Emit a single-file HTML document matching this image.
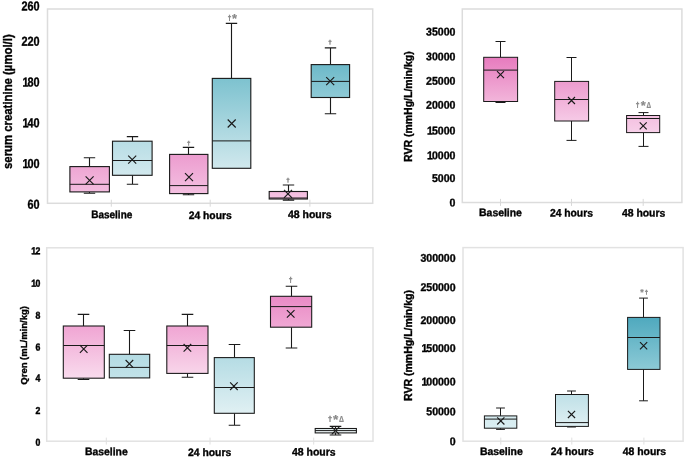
<!DOCTYPE html>
<html lang="en"><head><meta charset="utf-8"><title>Box plots</title>
<style>html,body{margin:0;padding:0;background:#fff}svg{display:block}text{font-family:"Liberation Sans",sans-serif;font-weight:bold;fill:#000000;stroke:#000;stroke-width:0.36px}.ann{font-weight:bold;fill:#8a8a8a;stroke:none}</style></head><body>
<svg width="685" height="459" viewBox="0 0 685 459">
<rect width="685" height="459" fill="#fff"/>
<defs>
</defs>
<rect x="47.5" y="9" width="325.2" height="194.3" fill="none" stroke="#dcdcdc" stroke-width="1.5"/>
<line x1="111.3" y1="199.7" x2="111.3" y2="206.7" stroke="#d8d8d8" stroke-width="1"/>
<line x1="210.2" y1="199.7" x2="210.2" y2="206.7" stroke="#d8d8d8" stroke-width="1"/>
<line x1="309.9" y1="199.7" x2="309.9" y2="206.7" stroke="#d8d8d8" stroke-width="1"/>
<rect x="462.3" y="9" width="219.6" height="193.5" fill="none" stroke="#dcdcdc" stroke-width="1.5"/>
<line x1="500.5" y1="198.9" x2="500.5" y2="205.9" stroke="#d8d8d8" stroke-width="1"/>
<line x1="571.5" y1="198.9" x2="571.5" y2="205.9" stroke="#d8d8d8" stroke-width="1"/>
<line x1="643.2" y1="198.9" x2="643.2" y2="205.9" stroke="#d8d8d8" stroke-width="1"/>
<rect x="46.7" y="247.8" width="326.3" height="193.4" fill="none" stroke="#e2e2e2" stroke-width="1.5"/>
<line x1="106.3" y1="437.6" x2="106.3" y2="444.6" stroke="#e0e0e0" stroke-width="1"/>
<line x1="210" y1="437.6" x2="210" y2="444.6" stroke="#e0e0e0" stroke-width="1"/>
<line x1="313.7" y1="437.6" x2="313.7" y2="444.6" stroke="#e0e0e0" stroke-width="1"/>
<rect x="463" y="247.6" width="220.1" height="193.6" fill="none" stroke="#e2e2e2" stroke-width="1.5"/>
<line x1="500.8" y1="437.6" x2="500.8" y2="444.6" stroke="#e0e0e0" stroke-width="1"/>
<line x1="571.8" y1="437.6" x2="571.8" y2="444.6" stroke="#e0e0e0" stroke-width="1"/>
<line x1="643.9" y1="437.6" x2="643.9" y2="444.6" stroke="#e0e0e0" stroke-width="1"/>
<path d="M89.5 166.6V157.7M83.8 157.7H95.2M89.5 191.9V193.3M83.8 193.3H95.2" stroke="#1a1a1a" stroke-width="1.12" fill="none"/>
<linearGradient id="g1" x1="0" y1="0" x2="0" y2="1"><stop offset="0" stop-color="#eea6d3"/><stop offset="1" stop-color="#f3bcdf"/></linearGradient>
<rect x="69.9" y="166.6" width="39.5" height="25.3" fill="url(#g1)" stroke="#1a1a1a" stroke-width="1.12"/>
<line x1="69.9" y1="184.3" x2="109.4" y2="184.3" stroke="#1a1a1a" stroke-width="1"/>
<path d="M85.6 176.3L93.6 184.3M85.6 184.3L93.6 176.3" stroke="#1a1a1a" stroke-width="1.15" fill="none"/>
<path d="M132.5 141.2V136.6M126.8 136.6H138.2M132.5 175.3V184.3M126.8 184.3H138.2" stroke="#1a1a1a" stroke-width="1.12" fill="none"/>
<linearGradient id="g2" x1="0" y1="0" x2="0" y2="1"><stop offset="0" stop-color="#b8dde5"/><stop offset="1" stop-color="#d2e9ee"/></linearGradient>
<rect x="112.5" y="141.2" width="39.6" height="34.1" fill="url(#g2)" stroke="#1a1a1a" stroke-width="1.12"/>
<line x1="112.5" y1="160.5" x2="152.1" y2="160.5" stroke="#1a1a1a" stroke-width="1"/>
<path d="M128.2 155.7L136.2 163.7M128.2 163.7L136.2 155.7" stroke="#1a1a1a" stroke-width="1.15" fill="none"/>
<path d="M188.5 154.4V147.4M182.8 147.4H194.2M188.5 193.6V194.8M182.8 194.8H194.2" stroke="#1a1a1a" stroke-width="1.12" fill="none"/>
<linearGradient id="g3" x1="0" y1="0" x2="0" y2="1"><stop offset="0" stop-color="#ec9ccf"/><stop offset="1" stop-color="#f4c0e1"/></linearGradient>
<rect x="169.6" y="154.4" width="38.3" height="39.2" fill="url(#g3)" stroke="#1a1a1a" stroke-width="1.12"/>
<line x1="169.6" y1="185.6" x2="207.9" y2="185.6" stroke="#1a1a1a" stroke-width="1"/>
<path d="M185 173.2L193 181.2M185 181.2L193 173.2" stroke="#1a1a1a" stroke-width="1.15" fill="none"/>
<path d="M231.5 78.4V23.4M225.8 23.4H237.2" stroke="#1a1a1a" stroke-width="1.12" fill="none"/>
<linearGradient id="g4" x1="0" y1="0" x2="0" y2="1"><stop offset="0" stop-color="#7dc2cf"/><stop offset="1" stop-color="#d0e8ed"/></linearGradient>
<rect x="212.3" y="78.4" width="38.5" height="89.9" fill="url(#g4)" stroke="#1a1a1a" stroke-width="1.12"/>
<line x1="212.3" y1="140.9" x2="250.8" y2="140.9" stroke="#1a1a1a" stroke-width="1"/>
<path d="M227.7 119.5L235.7 127.5M227.7 127.5L235.7 119.5" stroke="#1a1a1a" stroke-width="1.15" fill="none"/>
<path d="M288.5 191.5V185M282.8 185H294.2M288.5 199V200.1M282.8 200.1H294.2" stroke="#1a1a1a" stroke-width="1.12" fill="none"/>
<linearGradient id="g5" x1="0" y1="0" x2="0" y2="1"><stop offset="0" stop-color="#f3bcdf"/><stop offset="1" stop-color="#f5c4e3"/></linearGradient>
<rect x="269.2" y="191.5" width="38.2" height="7.5" fill="url(#g5)" stroke="#1a1a1a" stroke-width="1.12"/>
<line x1="269.2" y1="198" x2="307.4" y2="198" stroke="#1a1a1a" stroke-width="1"/>
<path d="M284 189.9L292 197.9M284 197.9L292 189.9" stroke="#1a1a1a" stroke-width="1.15" fill="none"/>
<path d="M330.5 64.6V47.9M324.8 47.9H336.2M330.5 97.5V113.8M324.8 113.8H336.2" stroke="#1a1a1a" stroke-width="1.12" fill="none"/>
<linearGradient id="g6" x1="0" y1="0" x2="0" y2="1"><stop offset="0" stop-color="#6db9c9"/><stop offset="1" stop-color="#8fcad6"/></linearGradient>
<rect x="311.2" y="64.6" width="38.4" height="32.9" fill="url(#g6)" stroke="#1a1a1a" stroke-width="1.12"/>
<line x1="311.2" y1="81.4" x2="349.6" y2="81.4" stroke="#1a1a1a" stroke-width="1"/>
<path d="M326.2 77.1L334.2 85.1M326.2 85.1L334.2 77.1" stroke="#1a1a1a" stroke-width="1.15" fill="none"/>
<path d="M500.5 57.3V41.5M495.5 41.5H505.5M500.5 101.5V102.5M495.5 102.5H505.5" stroke="#1a1a1a" stroke-width="1" fill="none"/>
<linearGradient id="g7" x1="0" y1="0" x2="0" y2="1"><stop offset="0" stop-color="#e77bbe"/><stop offset="1" stop-color="#f2b5da"/></linearGradient>
<rect x="483.7" y="57.3" width="33.9" height="44.2" fill="url(#g7)" stroke="#1a1a1a" stroke-width="1"/>
<line x1="483.7" y1="70.1" x2="517.6" y2="70.1" stroke="#1a1a1a" stroke-width="1"/>
<path d="M497 71.1L504 78.1M497 78.1L504 71.1" stroke="#1a1a1a" stroke-width="1.15" fill="none"/>
<path d="M571.5 81.4V57.5M566.5 57.5H576.5M571.5 121V140.4M566.5 140.4H576.5" stroke="#1a1a1a" stroke-width="1" fill="none"/>
<linearGradient id="g8" x1="0" y1="0" x2="0" y2="1"><stop offset="0" stop-color="#ec9bce"/><stop offset="1" stop-color="#f6cae6"/></linearGradient>
<rect x="554.7" y="81.4" width="33.9" height="39.6" fill="url(#g8)" stroke="#1a1a1a" stroke-width="1"/>
<line x1="554.7" y1="99.5" x2="588.6" y2="99.5" stroke="#1a1a1a" stroke-width="1"/>
<path d="M568 97L575 104M568 104L575 97" stroke="#1a1a1a" stroke-width="1.15" fill="none"/>
<path d="M643.5 115.5V112.6M638.5 112.6H648.5M643.5 132.6V146.4M638.5 146.4H648.5" stroke="#1a1a1a" stroke-width="1" fill="none"/>
<linearGradient id="g9" x1="0" y1="0" x2="0" y2="1"><stop offset="0" stop-color="#f3bfe0"/><stop offset="1" stop-color="#f7d0e9"/></linearGradient>
<rect x="626.6" y="115.5" width="33.1" height="17.1" fill="url(#g9)" stroke="#1a1a1a" stroke-width="1"/>
<line x1="626.6" y1="118.5" x2="659.7" y2="118.5" stroke="#1a1a1a" stroke-width="1"/>
<path d="M639.7 122.3L646.7 129.3M639.7 129.3L646.7 122.3" stroke="#1a1a1a" stroke-width="1.15" fill="none"/>
<path d="M83.5 326V314.4M77.7 314.4H89.3M83.5 378.2V379.5M77.7 379.5H89.3" stroke="#1a1a1a" stroke-width="1.08" fill="none"/>
<linearGradient id="g10" x1="0" y1="0" x2="0" y2="1"><stop offset="0" stop-color="#f0a5d3"/><stop offset="1" stop-color="#f9dbed"/></linearGradient>
<rect x="63.3" y="326" width="41" height="52.2" fill="url(#g10)" stroke="#1a1a1a" stroke-width="1.08"/>
<line x1="63.3" y1="345.5" x2="104.3" y2="345.5" stroke="#1a1a1a" stroke-width="1"/>
<path d="M79.9 345.2L87.5 352.8M79.9 352.8L87.5 345.2" stroke="#1a1a1a" stroke-width="1.15" fill="none"/>
<path d="M129.5 354.3V330.5M123.7 330.5H135.3" stroke="#1a1a1a" stroke-width="1.08" fill="none"/>
<linearGradient id="g11" x1="0" y1="0" x2="0" y2="1"><stop offset="0" stop-color="#b3dbe3"/><stop offset="1" stop-color="#c2e2e8"/></linearGradient>
<rect x="109.3" y="354.3" width="40.4" height="23.6" fill="url(#g11)" stroke="#1a1a1a" stroke-width="1.08"/>
<line x1="109.3" y1="367.4" x2="149.7" y2="367.4" stroke="#1a1a1a" stroke-width="1"/>
<path d="M125.6 360L133.2 367.6M125.6 367.6L133.2 360" stroke="#1a1a1a" stroke-width="1.15" fill="none"/>
<path d="M187.5 326V314.4M181.7 314.4H193.3M187.5 373.4V377.2M181.7 377.2H193.3" stroke="#1a1a1a" stroke-width="1.08" fill="none"/>
<linearGradient id="g12" x1="0" y1="0" x2="0" y2="1"><stop offset="0" stop-color="#f0a5d3"/><stop offset="1" stop-color="#f8d5ea"/></linearGradient>
<rect x="166.8" y="326" width="41.2" height="47.4" fill="url(#g12)" stroke="#1a1a1a" stroke-width="1.08"/>
<line x1="166.8" y1="345.5" x2="208" y2="345.5" stroke="#1a1a1a" stroke-width="1"/>
<path d="M183.6 344L191.2 351.6M183.6 351.6L191.2 344" stroke="#1a1a1a" stroke-width="1.15" fill="none"/>
<path d="M234.5 357.6V344.5M228.7 344.5H240.3M234.5 413.3V425.2M228.7 425.2H240.3" stroke="#1a1a1a" stroke-width="1.08" fill="none"/>
<linearGradient id="g13" x1="0" y1="0" x2="0" y2="1"><stop offset="0" stop-color="#b5dce4"/><stop offset="1" stop-color="#e0f0f3"/></linearGradient>
<rect x="214.3" y="357.6" width="40" height="55.7" fill="url(#g13)" stroke="#1a1a1a" stroke-width="1.08"/>
<line x1="214.3" y1="387.5" x2="254.3" y2="387.5" stroke="#1a1a1a" stroke-width="1"/>
<path d="M230.1 382.4L237.7 390M230.1 390L237.7 382.4" stroke="#1a1a1a" stroke-width="1.15" fill="none"/>
<path d="M291.5 296.3V286.3M285.7 286.3H297.3M291.5 327.2V348M285.7 348H297.3" stroke="#1a1a1a" stroke-width="1.08" fill="none"/>
<linearGradient id="g14" x1="0" y1="0" x2="0" y2="1"><stop offset="0" stop-color="#e98ac5"/><stop offset="1" stop-color="#f0a8d4"/></linearGradient>
<rect x="270.5" y="296.3" width="41.2" height="30.9" fill="url(#g14)" stroke="#1a1a1a" stroke-width="1.08"/>
<line x1="270.5" y1="306.6" x2="311.7" y2="306.6" stroke="#1a1a1a" stroke-width="1"/>
<path d="M286.9 310.1L294.5 317.7M286.9 317.7L294.5 310.1" stroke="#1a1a1a" stroke-width="1.15" fill="none"/>
<path d="M335.5 428.5V426.4M329.7 426.4H341.3M335.5 432.9V435M329.7 435H341.3" stroke="#1a1a1a" stroke-width="1.08" fill="none"/>
<linearGradient id="g15" x1="0" y1="0" x2="0" y2="1"><stop offset="0" stop-color="#e8f4f6"/><stop offset="1" stop-color="#f2f9fa"/></linearGradient>
<rect x="315.2" y="428.5" width="41.2" height="4.4" fill="url(#g15)" stroke="#1a1a1a" stroke-width="1.08"/>
<line x1="315.2" y1="430.6" x2="356.4" y2="430.6" stroke="#1a1a1a" stroke-width="1"/>
<path d="M331.7 426.8L339.3 434.4M331.7 434.4L339.3 426.8" stroke="#1a1a1a" stroke-width="1.15" fill="none"/>
<path d="M500.5 415.9V408M496.1 408H504.9M500.5 428.2V429.4M496.1 429.4H504.9" stroke="#1a1a1a" stroke-width="1" fill="none"/>
<linearGradient id="g16" x1="0" y1="0" x2="0" y2="1"><stop offset="0" stop-color="#d6ecf0"/><stop offset="1" stop-color="#daeef2"/></linearGradient>
<rect x="484.4" y="415.9" width="32.4" height="12.3" fill="url(#g16)" stroke="#1a1a1a" stroke-width="1"/>
<line x1="484.4" y1="419.1" x2="516.8" y2="419.1" stroke="#1a1a1a" stroke-width="1"/>
<path d="M497.2 417.3L504.4 424.5M497.2 424.5L504.4 417.3" stroke="#1a1a1a" stroke-width="1.15" fill="none"/>
<path d="M571.5 394.5V391M567.1 391H575.9M571.5 426.4V427M567.1 427H575.9" stroke="#1a1a1a" stroke-width="1" fill="none"/>
<linearGradient id="g17" x1="0" y1="0" x2="0" y2="1"><stop offset="0" stop-color="#bfe0e7"/><stop offset="1" stop-color="#e0f0f3"/></linearGradient>
<rect x="555.5" y="394.5" width="32.9" height="31.9" fill="url(#g17)" stroke="#1a1a1a" stroke-width="1"/>
<line x1="555.5" y1="422.6" x2="588.4" y2="422.6" stroke="#1a1a1a" stroke-width="1"/>
<path d="M567.9 410.8L575.1 418M567.9 418L575.1 410.8" stroke="#1a1a1a" stroke-width="1.15" fill="none"/>
<path d="M643.5 317.4V298.1M639.1 298.1H647.9M643.5 369.4V400.8M639.1 400.8H647.9" stroke="#1a1a1a" stroke-width="1" fill="none"/>
<linearGradient id="g18" x1="0" y1="0" x2="0" y2="1"><stop offset="0" stop-color="#4fa9be"/><stop offset="1" stop-color="#8ccad6"/></linearGradient>
<rect x="627.6" y="317.4" width="32.4" height="52" fill="url(#g18)" stroke="#1a1a1a" stroke-width="1"/>
<line x1="627.6" y1="337.5" x2="660" y2="337.5" stroke="#1a1a1a" stroke-width="1"/>
<path d="M640 342.2L647.2 349.4M640 349.4L647.2 342.2" stroke="#1a1a1a" stroke-width="1.15" fill="none"/>
<text transform="translate(91.20 218.10) rotate(0.2)" font-size="10.8" textLength="41.10" lengthAdjust="spacingAndGlyphs">Baseline</text>
<text transform="translate(188.70 218.90) rotate(0.2)" font-size="10.8" textLength="43.00" lengthAdjust="spacingAndGlyphs">24 hours</text>
<text transform="translate(288.00 218.00) rotate(0.2)" font-size="10.8" textLength="43.60" lengthAdjust="spacingAndGlyphs">48 hours</text>
<text transform="translate(479.10 216.10) rotate(0.2)" font-size="10.8" textLength="42.80" lengthAdjust="spacingAndGlyphs">Baseline</text>
<text transform="translate(549.90 216.50) rotate(0.2)" font-size="10.8" textLength="43.00" lengthAdjust="spacingAndGlyphs">24 hours</text>
<text transform="translate(622.00 216.50) rotate(0.2)" font-size="10.8" textLength="43.30" lengthAdjust="spacingAndGlyphs">48 hours</text>
<text transform="translate(85.10 455.10) rotate(0.2)" font-size="10.8" textLength="42.60" lengthAdjust="spacingAndGlyphs">Baseline</text>
<text transform="translate(188.10 455.90) rotate(0.2)" font-size="10.8" textLength="43.10" lengthAdjust="spacingAndGlyphs">24 hours</text>
<text transform="translate(292.00 455.50) rotate(0.2)" font-size="10.8" textLength="43.60" lengthAdjust="spacingAndGlyphs">48 hours</text>
<text transform="translate(479.90 454.90) rotate(0.2)" font-size="10.8" textLength="42.80" lengthAdjust="spacingAndGlyphs">Baseline</text>
<text transform="translate(550.70 454.90) rotate(0.2)" font-size="10.8" textLength="43.00" lengthAdjust="spacingAndGlyphs">24 hours</text>
<text transform="translate(622.70 454.90) rotate(0.2)" font-size="10.8" textLength="43.40" lengthAdjust="spacingAndGlyphs">48 hours</text>
<text transform="translate(39.60 10.58) rotate(0.2) scale(0.8367 1)" font-size="13" x="-21.69 -14.46 -7.23">260</text>
<text transform="translate(39.60 45.69) rotate(0.2) scale(0.8367 1)" font-size="13" x="-21.69 -14.46 -7.23">220</text>
<text transform="translate(39.60 86.44) rotate(0.2) scale(0.8367 1)" font-size="13" x="-20.50 -14.46 -7.23">180</text>
<text transform="translate(39.60 127.19) rotate(0.2) scale(0.8367 1)" font-size="13" x="-20.50 -14.46 -7.23">140</text>
<text transform="translate(39.60 167.94) rotate(0.2) scale(0.8367 1)" font-size="13" x="-20.50 -14.46 -7.23">100</text>
<text transform="translate(39.60 208.69) rotate(0.2) scale(0.8367 1)" font-size="13" x="-14.46 -7.23">60</text>
<text transform="translate(455.40 35.65) rotate(0.2) scale(0.9340 1)" font-size="11.3" x="-31.43 -25.14 -18.86 -12.57 -6.29">35000</text>
<text transform="translate(455.40 60.45) rotate(0.2) scale(0.9340 1)" font-size="11.3" x="-31.43 -25.14 -18.86 -12.57 -6.29">30000</text>
<text transform="translate(455.40 84.75) rotate(0.2) scale(0.9340 1)" font-size="11.3" x="-31.43 -25.14 -18.86 -12.57 -6.29">25000</text>
<text transform="translate(455.40 108.75) rotate(0.2) scale(0.9340 1)" font-size="11.3" x="-31.43 -25.14 -18.86 -12.57 -6.29">20000</text>
<text transform="translate(455.40 134.55) rotate(0.2) scale(0.9340 1)" font-size="11.3" x="-30.35 -25.14 -18.86 -12.57 -6.29">15000</text>
<text transform="translate(455.40 159.25) rotate(0.2) scale(0.9340 1)" font-size="11.3" x="-30.35 -25.14 -18.86 -12.57 -6.29">10000</text>
<text transform="translate(455.40 182.00) rotate(0.2) scale(0.9340 1)" font-size="11.3" x="-25.14 -18.86 -12.57 -6.29">5000</text>
<text transform="translate(455.40 206.45) rotate(0.2) scale(0.9340 1)" font-size="11.3" x="-6.29">0</text>
<text transform="translate(40.30 254.37) rotate(0.2) scale(0.8549 1)" font-size="10.2" x="-10.64 -5.67" style="stroke-width:0.45px">12</text>
<text transform="translate(40.30 286.72) rotate(0.2) scale(0.8549 1)" font-size="10.2" x="-10.64 -5.67" style="stroke-width:0.45px">10</text>
<text transform="translate(40.30 318.82) rotate(0.2) scale(0.8549 1)" font-size="10.2" x="-5.67" style="stroke-width:0.45px">8</text>
<text transform="translate(40.30 350.42) rotate(0.2) scale(0.8549 1)" font-size="10.2" x="-5.67" style="stroke-width:0.45px">6</text>
<text transform="translate(40.30 381.42) rotate(0.2) scale(0.8549 1)" font-size="10.2" x="-5.67" style="stroke-width:0.45px">4</text>
<text transform="translate(40.30 413.97) rotate(0.2) scale(0.8549 1)" font-size="10.2" x="-5.67" style="stroke-width:0.45px">2</text>
<text transform="translate(40.30 445.82) rotate(0.2) scale(0.8549 1)" font-size="10.2" x="-5.67" style="stroke-width:0.45px">0</text>
<text transform="translate(455.60 261.90) rotate(0.2) scale(0.9340 1)" font-size="11.3" x="-37.71 -31.43 -25.14 -18.86 -12.57 -6.29">300000</text>
<text transform="translate(455.60 291.15) rotate(0.2) scale(0.9340 1)" font-size="11.3" x="-37.71 -31.43 -25.14 -18.86 -12.57 -6.29">250000</text>
<text transform="translate(455.60 324.05) rotate(0.2) scale(0.9340 1)" font-size="11.3" x="-37.71 -31.43 -25.14 -18.86 -12.57 -6.29">200000</text>
<text transform="translate(455.60 352.10) rotate(0.2) scale(0.9340 1)" font-size="11.3" x="-36.64 -31.43 -25.14 -18.86 -12.57 -6.29">150000</text>
<text transform="translate(455.60 385.60) rotate(0.2) scale(0.9340 1)" font-size="11.3" x="-36.64 -31.43 -25.14 -18.86 -12.57 -6.29">100000</text>
<text transform="translate(455.60 415.40) rotate(0.2) scale(0.9340 1)" font-size="11.3" x="-31.43 -25.14 -18.86 -12.57 -6.29">50000</text>
<text transform="translate(455.60 445.20) rotate(0.2) scale(0.9340 1)" font-size="11.3" x="-6.29">0</text>
<text transform="translate(12.3 169) rotate(-90)" font-size="12" textLength="134.7" lengthAdjust="spacingAndGlyphs">serum creatinine (µmol/l)</text>
<text transform="translate(411.8 162) rotate(-90)" font-size="11" textLength="110.7" lengthAdjust="spacingAndGlyphs">RVR (mmHg/L/min/kg)</text>
<text transform="translate(26.8 384.7) rotate(-90)" font-size="9.9" textLength="78.6" lengthAdjust="spacingAndGlyphs">Qren (mL/min/kg)</text>
<text transform="translate(412 401) rotate(-90)" font-size="11" textLength="111" lengthAdjust="spacingAndGlyphs">RVR (mmHg/L/min/kg)</text>
<text class="ann" x="188.70" y="145.09" font-size="6.14" font-weight="normal" text-anchor="middle" style="stroke:#8a8a8a;stroke-width:0.45px">†</text>
<text class="ann" x="229.40" y="20.08" font-size="6.36" font-weight="normal" text-anchor="middle" style="stroke:#8a8a8a;stroke-width:0.45px">†</text>
<text class="ann" x="234.40" y="23.24" font-size="12.78" font-weight="bold" text-anchor="middle" style="stroke:#8a8a8a;stroke-width:0.2px">*</text>
<text class="ann" x="288.10" y="182.39" font-size="6.25" font-weight="normal" text-anchor="middle" style="stroke:#8a8a8a;stroke-width:0.45px">†</text>
<text class="ann" x="330.10" y="44.39" font-size="6.25" font-weight="normal" text-anchor="middle" style="stroke:#8a8a8a;stroke-width:0.45px">†</text>
<text class="ann" x="637.60" y="107.27" font-size="6.59" font-weight="normal" text-anchor="middle" style="stroke:#8a8a8a;stroke-width:0.45px">†</text>
<text class="ann" x="643.20" y="110.34" font-size="12.78" font-weight="bold" text-anchor="middle" style="stroke:#8a8a8a;stroke-width:0.2px">*</text>
<text class="ann" transform="translate(648.70 107.80) scale(0.78 1)" font-size="8.18" font-weight="normal" text-anchor="middle" style="stroke:#8a8a8a;stroke-width:0.15px">Δ</text>
<text class="ann" x="290.60" y="282.36" font-size="6.70" font-weight="normal" text-anchor="middle" style="stroke:#8a8a8a;stroke-width:0.45px">†</text>
<text class="ann" x="330.10" y="421.04" font-size="7.27" font-weight="normal" text-anchor="middle" style="stroke:#8a8a8a;stroke-width:0.45px">†</text>
<text class="ann" x="335.60" y="424.13" font-size="13.61" font-weight="bold" text-anchor="middle" style="stroke:#8a8a8a;stroke-width:0.2px">*</text>
<text class="ann" transform="translate(341.40 421.60) scale(0.78 1)" font-size="8.79" font-weight="normal" text-anchor="middle" style="stroke:#8a8a8a;stroke-width:0.15px">Δ</text>
<text class="ann" x="641.90" y="294.72" font-size="8.89" font-weight="bold" text-anchor="middle" style="stroke:#8a8a8a;stroke-width:0.2px">*</text>
<text class="ann" x="646.40" y="293.69" font-size="6.14" font-weight="normal" text-anchor="middle" style="stroke:#8a8a8a;stroke-width:0.45px">†</text>
</svg></body></html>
